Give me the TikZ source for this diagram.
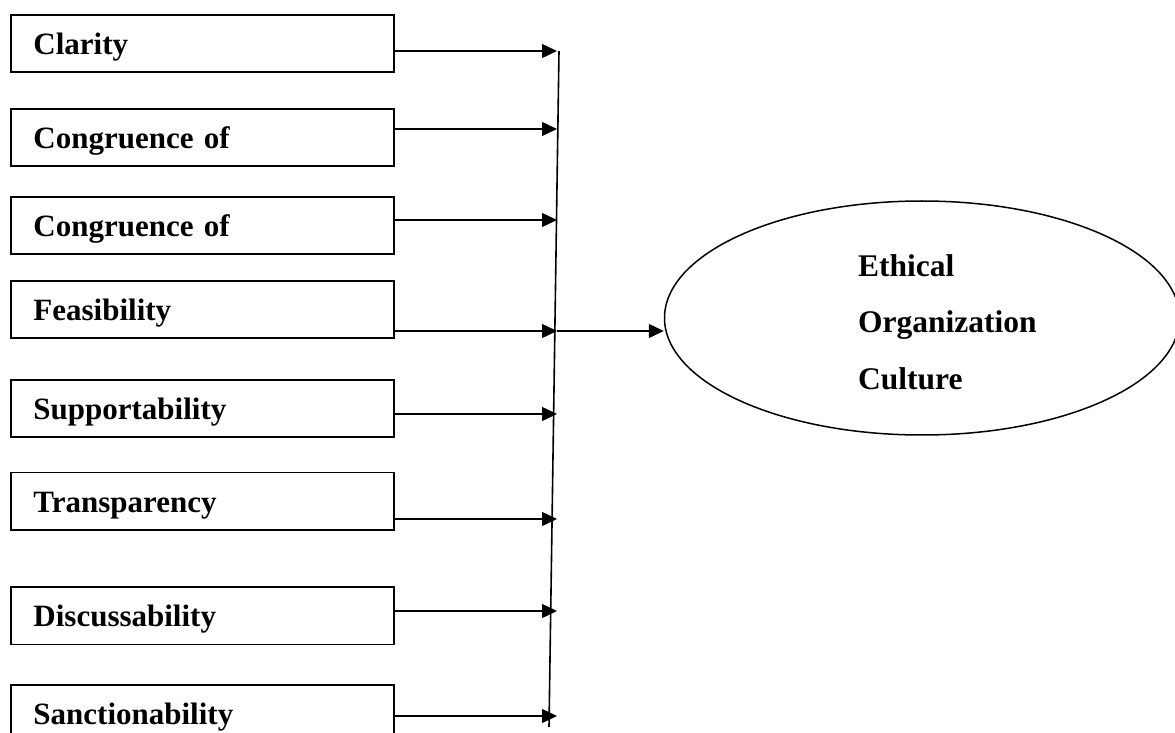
\documentclass[tikz,border=0pt]{standalone}
\usepackage{fontspec}
\setmainfont{Liberation Serif}
\usepackage{xcolor}
\usepackage{tikz}
\usetikzlibrary{positioning, arrows.meta, calc, shapes.geometric}

\begin{document}
\begin{tikzpicture}[x=0.5pt, y=-0.5pt,
    factor/.style={draw, line width=0.95pt, rectangle, anchor=north west,
      inner xsep=11.25pt, inner ysep=0pt, text width=169pt, align=left,
      minimum height=28.75pt, text height=11pt, text depth=0pt,
      font=\fontsize{15.5}{18}\selectfont\bfseries},
    feed/.style={line width=0.7pt, -{Triangle[length=7.5pt, width=7pt]}}]
  \useasboundingbox (0,0) rectangle (1175,733);

  % factor boxes
  \node[factor] (clarity) at (10,14) {Clarity};
  \node[factor] (congrA) at (10,108) {Congruence of};
  \node[factor] (congrB) at (10,196) {Congruence of};
  \node[factor] (feasib) at (10,280) {Feasibility};
  \node[factor] (support) at (10,379) {Supportability};
  \node[factor] (transp) at (10,471.5) {Transparency};
  \node[factor] (discuss) at (10,586) {Discussability};
  \node[factor] (sanction) at (10,684) {Sanctionability};

  % arrow tips on the collecting line
  \coordinate (t1) at (557,51);
  \coordinate (t2) at (557,129);
  \coordinate (t3) at (557,220);
  \coordinate (t4) at (557,331);
  \coordinate (t5) at (557,414);
  \coordinate (t6) at (557,519);
  \coordinate (t7) at (557,611);
  \coordinate (t8) at (557,716);
  \coordinate (spinetop) at (559,51);
  \coordinate (spinebot) at (549,727);

  \draw[line width=0.8pt] (spinetop) -- (spinebot);

  \draw[feed] (clarity.east |- t1) -- (t1);
  \draw[feed] (congrA.east |- t2) -- (t2);
  \draw[feed] (congrB.east |- t3) -- (t3);
  \draw[feed] (feasib.east |- t4) -- (t4);
  \draw[feed] (support.east |- t5) -- (t5);
  \draw[feed] (transp.east |- t6) -- (t6);
  \draw[feed] (discuss.east |- t7) -- (t7);
  \draw[feed] (sanction.east |- t8) -- (t8);

  % outcome
  \node[draw, ellipse, line width=0.75pt, minimum width=257.5pt,
        minimum height=117pt, inner sep=0pt] (culture) at (922,318) {};
  \node[anchor=west, inner sep=0pt, align=left,
        font=\fontsize{15.75}{28.25}\selectfont\bfseries] (culturetext) at (857.7,322)
        {Ethical\\Organization\\Culture};

  \draw[feed] (t4) -- (t4 -| culture.west);
\end{tikzpicture}
\end{document}
